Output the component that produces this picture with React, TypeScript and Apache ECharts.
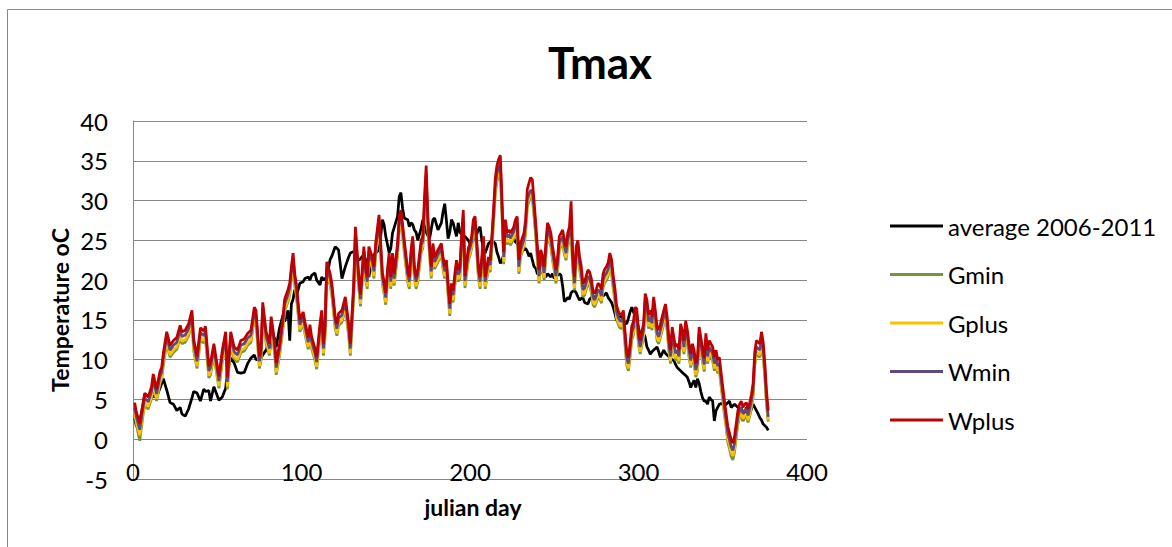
import React, { useEffect, useRef } from "react";
import * as echarts from "echarts";

const days = [
  1, 2, 4, 6, 7, 9, 11, 12, 14, 16, 17, 18, 20, 22, 24, 26, 28, 29, 31, 33, 35,
  36, 38, 40, 42, 43, 45, 46, 48, 51, 53, 55, 56, 58, 60, 62, 64, 66, 68, 70, 72, 73,
  75, 76, 77, 79, 80, 81, 82, 84, 85, 87, 89, 90, 92, 93, 94, 95, 96, 97, 99, 101, 102, 104, 105, 106, 108, 109, 111, 112,
  113, 114, 115, 117, 118, 120, 121, 122, 124, 126, 128, 129, 131, 132, 134, 135, 137, 138, 139, 140, 142, 143, 144, 146, 147, 148, 149, 150,
  151, 152, 153, 154, 155, 157, 158, 159, 160, 161, 163, 164, 165, 166, 167, 168, 169, 171, 172, 173, 174, 175, 176, 177, 178, 179, 181, 183, 184, 185, 186, 187, 188,
  189, 190, 191, 192, 193, 194, 195, 196, 197, 199, 200, 201, 202, 203, 204, 205, 206, 207, 208, 209, 210, 211, 212, 213, 214, 215, 216, 217, 218, 219, 220, 221, 222, 223, 224, 226,
  227, 228, 229, 230, 232, 233, 234, 235, 236, 237, 238, 239, 240, 241, 242, 243, 244, 245, 246, 247, 248, 249, 250, 251, 252, 253, 254, 255, 256, 257, 258, 259, 260, 261, 262, 263, 264,
  265, 266, 267, 268, 270, 271, 272, 273, 274, 275, 276, 277, 278, 279, 280, 281, 282, 283, 284, 285, 286, 287, 288, 289, 290, 291, 292, 293, 294, 295, 296, 297, 298, 299, 300, 301, 302,
  303, 304, 305, 306, 307, 308, 309, 310, 311, 312, 313, 315, 316, 317, 318, 319, 320, 321, 322, 323, 324, 325, 326, 327, 328, 329, 330, 331, 332, 333, 334, 335, 336, 337, 338, 339,
  340, 341, 342, 343, 344, 345, 346, 347, 348, 349, 350, 351, 352, 353, 354, 355, 356, 357, 358, 359, 360, 361, 362, 363, 364, 365, 366, 367, 368, 369, 370, 371, 372, 373, 374, 375, 376, 377,
];

const average = [
  2.6, 1.6, 2.2, 4.4, 5.6, 5.5, 5.2, 5.4, 5.3, 6.4, 7.0, 7.6, 6.2, 4.6, 4.4, 3.6, 4.0, 3.2, 2.9, 3.8, 5.2,
  6.0, 5.8, 4.8, 6.3, 6.0, 6.1, 4.8, 6.6, 4.9, 5.3, 6.4, 8.6, 10.2, 9.6, 8.4, 8.3, 8.4, 9.5, 10.2, 10.6, 10.0,
  10.0, 10.2, 10.6, 11.2, 11.8, 11.0, 12.4, 12.8, 11.6, 14.0, 15.6, 14.8, 16.2, 12.4, 17.0, 17.6, 18.8, 18.0, 19.6, 19.8, 20.2, 20.4, 20.0, 20.6, 20.9, 20.0, 19.4, 20.4,
  20.0, 20.2, 20.4, 22.6, 23.0, 24.2, 24.0, 23.8, 20.2, 21.7, 22.9, 23.4, 23.6, 23.4, 22.5, 22.7, 23.2, 22.6, 21.5, 20.4, 22.9, 23.2, 23.4, 23.8, 25.5, 27.6, 27.0, 25.5,
  24.5, 23.4, 24.0, 25.9, 26.6, 28.0, 30.5, 31.0, 29.0, 27.8, 27.6, 26.7, 27.2, 27.0, 26.3, 26.0, 25.0, 26.5, 27.6, 26.8, 26.0, 25.6, 25.2, 26.4, 27.6, 27.8, 26.3, 27.2, 28.6, 29.6, 27.5, 25.2, 26.0,
  27.6, 27.2, 26.3, 25.5, 27.2, 26.0, 25.8, 25.5, 25.5, 25.0, 24.6, 24.8, 25.0, 25.5, 25.8, 26.4, 26.7, 25.0, 23.8, 23.4, 24.0, 24.6, 24.8, 25.0, 24.8, 24.6, 23.5, 22.9, 22.1, 22.5, 23.2, 25.5, 25.6, 25.5, 25.4, 25.2,
  24.8, 24.6, 24.0, 23.8, 23.8, 24.0, 23.6, 23.0, 23.4, 22.5, 21.7, 21.5, 20.8, 20.6, 21.2, 21.0, 20.6, 20.4, 20.8, 20.6, 20.4, 20.8, 20.2, 20.8, 20.6, 20.8, 20.6, 19.2, 17.3, 17.5, 17.8, 17.6, 18.4, 18.6, 18.7, 18.4, 17.9,
  17.5, 17.7, 17.8, 17.2, 17.0, 17.6, 17.8, 17.6, 17.9, 18.0, 17.6, 17.8, 18.1, 18.0, 18.2, 18.4, 17.8, 17.5, 17.2, 16.6, 15.8, 14.9, 15.2, 15.4, 15.5, 14.9, 14.6, 14.5, 15.2, 16.0, 16.6, 16.0, 15.5, 15.0, 14.0, 13.2, 12.8,
  13.3, 12.8, 11.6, 11.2, 10.7, 11.0, 11.2, 11.4, 11.6, 11.0, 10.3, 11.2, 10.8, 10.6, 10.4, 10.2, 10.0, 9.9, 9.4, 9.0, 8.8, 8.6, 8.4, 8.2, 8.0, 7.8, 7.2, 6.5, 7.0, 7.4, 6.5, 7.6, 7.0, 6.0, 5.2, 4.8,
  4.8, 4.4, 5.3, 5.0, 4.8, 2.3, 3.6, 4.0, 4.4, 4.5, 4.4, 4.2, 4.4, 4.6, 4.8, 4.0, 4.2, 4.4, 4.2, 4.0, 3.8, 3.6, 2.3, 3.2, 4.0, 3.6, 3.2, 3.8, 4.4, 4.0, 3.6, 3.2, 2.7, 2.4, 1.9, 1.7, 1.5, 1.1,
];

const gmin = [
  3.1, 1.8, -0.2, 3.1, 4.3, 3.8, 5.1, 6.7, 4.8, 7.0, 7.5, 9.3, 12.0, 10.3, 10.9, 11.3, 12.8, 12.0, 12.2, 13.0, 14.7,
  11.1, 8.9, 12.5, 12.1, 12.7, 7.7, 8.1, 10.5, 6.4, 9.7, 12.0, 6.3, 12.0, 10.1, 9.7, 10.9, 11.1, 11.8, 12.2, 15.1, 14.7,
  8.9, 9.9, 15.7, 12.0, 11.3, 10.5, 13.9, 10.9, 8.1, 10.5, 13.9, 16.1, 17.3, 18.1, 20.2, 21.9, 19.3, 17.9, 13.5, 14.5, 13.3, 11.3, 12.9, 11.4, 9.9, 8.8, 13.1, 14.7,
  10.5, 13.0, 20.8, 19.3, 18.1, 13.9, 13.0, 14.3, 14.7, 16.4, 13.0, 10.5, 18.1, 25.2, 19.0, 16.7, 22.7, 20.2, 18.9, 22.7, 21.4, 20.2, 23.1, 26.7, 23.1, 19.5, 18.3, 16.9,
  19.8, 21.9, 18.9, 21.9, 19.3, 23.1, 26.5, 27.3, 25.5, 23.5, 19.8, 18.9, 22.3, 24.0, 20.2, 18.9, 19.8, 23.5, 24.0, 28.5, 32.3, 26.3, 23.1, 20.2, 23.1, 21.4, 22.3, 23.1, 21.4, 20.2, 21.0, 18.1, 15.5,
  18.1, 17.2, 19.3, 21.0, 19.8, 20.2, 24.0, 27.1, 19.0, 22.5, 23.1, 24.0, 26.1, 26.5, 23.5, 20.2, 18.9, 21.4, 24.0, 18.9, 20.2, 21.4, 21.0, 24.1, 27.2, 30.8, 32.4, 33.2, 33.6, 28.3, 22.0, 26.1, 24.5, 24.8, 24.4, 25.2,
  25.9, 26.3, 20.8, 22.9, 24.2, 25.9, 29.2, 29.9, 30.4, 30.2, 28.0, 25.5, 22.5, 19.6, 22.1, 21.3, 20.0, 22.9, 25.5, 25.0, 24.2, 22.5, 21.2, 19.6, 21.2, 23.8, 24.2, 24.6, 23.3, 22.5, 24.2, 25.0, 26.0, 21.3, 18.7, 22.5, 23.3,
  21.3, 20.1, 17.9, 18.1, 19.6, 19.3, 18.5, 16.9, 16.6, 17.2, 17.9, 17.7, 17.1, 19.1, 19.7, 20.0, 20.5, 21.7, 20.9, 18.9, 17.3, 15.1, 14.4, 14.0, 13.9, 14.5, 11.9, 9.3, 8.6, 10.3, 12.5, 13.1, 14.9, 14.7, 11.9, 10.7, 11.8,
  12.8, 16.6, 15.8, 13.9, 14.5, 13.7, 16.2, 14.5, 12.4, 12.0, 12.8, 14.5, 15.3, 13.7, 11.1, 9.5, 12.4, 11.1, 9.9, 10.3, 9.5, 12.8, 12.0, 10.7, 13.2, 12.0, 10.3, 9.0, 10.3, 9.5, 7.8, 8.6, 12.4, 11.1, 9.7, 8.5,
  11.6, 9.5, 10.7, 10.3, 9.9, 8.6, 9.5, 8.3, 8.6, 6.7, 4.9, 3.1, 1.5, -0.4, -1.2, -2.2, -2.6, -1.6, 0.2, 1.9, 2.7, 3.1, 2.3, 2.7, 2.9, 2.1, 2.9, 3.9, 5.3, 9.3, 10.7, 10.5, 10.3, 11.8, 10.5, 7.7, 4.2, 2.2,
];

const gplus = [
  3.4, 2.2, 0.5, 3.4, 4.6, 4.1, 5.4, 7.0, 5.1, 7.3, 7.8, 9.6, 12.3, 10.6, 11.2, 11.6, 13.1, 12.3, 12.5, 13.3, 15.0,
  11.4, 9.2, 12.8, 12.4, 13.0, 8.0, 8.4, 10.8, 6.7, 10.0, 12.3, 6.6, 12.3, 10.4, 10.0, 11.2, 11.4, 12.1, 12.5, 15.4, 15.0,
  9.2, 10.2, 16.0, 12.3, 11.6, 10.8, 14.2, 11.2, 8.4, 10.8, 14.2, 16.4, 17.6, 18.4, 20.5, 22.2, 19.6, 18.2, 13.8, 14.8, 13.6, 11.6, 13.2, 11.7, 10.2, 9.1, 13.4, 15.0,
  10.8, 13.3, 21.1, 19.6, 18.4, 14.2, 13.3, 14.6, 15.0, 16.7, 13.3, 10.8, 18.4, 25.5, 19.3, 17.0, 23.0, 20.5, 19.2, 23.0, 21.7, 20.5, 23.4, 27.0, 23.4, 19.8, 18.6, 17.2,
  20.1, 22.2, 19.2, 22.2, 19.6, 23.4, 26.8, 27.6, 25.8, 23.8, 20.1, 19.2, 22.6, 24.3, 20.5, 19.2, 20.1, 23.8, 24.3, 28.8, 32.6, 26.6, 23.4, 20.5, 23.4, 21.7, 22.6, 23.4, 21.7, 20.5, 21.3, 18.4, 15.8,
  18.4, 17.5, 19.6, 21.3, 20.1, 20.5, 24.3, 27.4, 19.3, 22.8, 23.4, 24.3, 26.4, 26.8, 23.8, 20.5, 19.2, 21.7, 24.3, 19.2, 20.5, 21.7, 21.3, 24.4, 27.6, 31.2, 32.8, 33.6, 34.0, 28.6, 22.3, 26.4, 24.8, 25.1, 24.7, 25.5,
  26.2, 26.6, 21.1, 23.2, 24.5, 26.2, 29.6, 30.3, 30.8, 30.6, 28.4, 25.8, 22.8, 19.9, 22.4, 21.6, 20.3, 23.2, 25.8, 25.3, 24.5, 22.8, 21.5, 19.9, 21.5, 24.1, 24.5, 24.9, 23.6, 22.8, 24.5, 25.3, 26.4, 21.6, 19.0, 22.8, 23.6,
  21.6, 20.4, 18.2, 18.4, 19.9, 19.6, 18.8, 17.2, 16.9, 17.5, 18.2, 18.0, 17.4, 19.4, 20.0, 20.3, 20.8, 22.0, 21.2, 19.2, 17.6, 15.4, 14.7, 14.3, 14.2, 14.8, 12.2, 9.6, 8.9, 10.6, 12.8, 13.4, 15.2, 15.0, 12.2, 11.0, 12.1,
  13.1, 16.9, 16.1, 14.2, 14.8, 14.0, 16.5, 14.8, 12.7, 12.3, 13.1, 14.8, 15.6, 14.0, 11.4, 9.8, 12.7, 11.4, 10.2, 10.6, 9.8, 13.1, 12.3, 11.0, 13.5, 12.3, 10.6, 9.3, 10.6, 9.8, 8.1, 8.9, 12.7, 11.4, 10.0, 8.8,
  11.9, 9.8, 11.0, 10.6, 10.2, 8.9, 9.8, 8.6, 8.9, 7.0, 5.2, 3.4, 1.8, 0.0, -0.8, -1.7, -2.1, -1.2, 0.5, 2.2, 3.0, 3.4, 2.6, 3.0, 3.2, 2.4, 3.2, 4.2, 5.6, 9.6, 11.0, 10.8, 10.6, 12.1, 10.8, 8.0, 4.4, 2.4,
];

const wmin = [
  4.0, 2.8, 1.2, 4.0, 5.2, 4.7, 6.0, 7.6, 5.7, 7.9, 8.4, 10.2, 12.9, 11.2, 11.8, 12.2, 13.7, 12.9, 13.1, 13.9, 15.6,
  12.0, 9.8, 13.4, 13.0, 13.6, 8.6, 9.0, 11.4, 7.3, 10.6, 12.9, 7.2, 12.9, 11.0, 10.6, 11.8, 12.0, 12.7, 13.1, 16.0, 15.6,
  9.8, 10.8, 16.6, 12.9, 12.2, 11.4, 14.8, 11.8, 9.0, 11.4, 14.8, 17.0, 18.2, 19.0, 21.1, 22.8, 20.2, 18.8, 14.4, 15.4, 14.2, 12.2, 13.8, 12.3, 10.8, 9.7, 14.0, 15.6,
  11.4, 13.9, 21.7, 20.2, 19.0, 14.8, 13.9, 15.2, 15.6, 17.3, 13.9, 11.4, 19.0, 26.1, 19.9, 17.6, 23.6, 21.1, 19.8, 23.6, 22.3, 21.1, 24.0, 27.6, 24.0, 20.4, 19.2, 17.8,
  20.7, 22.8, 19.8, 22.8, 20.2, 24.0, 27.4, 28.2, 26.4, 24.4, 20.7, 19.8, 23.2, 24.9, 21.1, 19.8, 20.7, 24.4, 24.9, 29.4, 33.2, 27.2, 24.0, 21.1, 24.0, 22.3, 23.2, 24.0, 22.3, 21.1, 21.9, 19.0, 16.4,
  19.0, 18.1, 20.2, 21.9, 20.7, 21.1, 24.9, 28.0, 19.9, 23.4, 24.0, 24.9, 27.0, 27.4, 24.4, 21.1, 19.8, 22.3, 24.9, 19.8, 21.1, 22.3, 21.9, 25.0, 28.2, 31.8, 33.4, 34.2, 34.6, 29.2, 22.9, 27.0, 25.4, 25.7, 25.3, 26.1,
  26.8, 27.2, 21.7, 23.8, 25.1, 26.8, 30.2, 30.8, 31.3, 31.2, 29.0, 26.4, 23.4, 20.5, 23.0, 22.2, 20.9, 23.8, 26.4, 25.9, 25.1, 23.4, 22.1, 20.5, 22.1, 24.7, 25.1, 25.5, 24.2, 23.4, 25.1, 25.9, 27.0, 22.2, 19.6, 23.4, 24.2,
  22.2, 21.0, 18.8, 19.0, 20.5, 20.2, 19.4, 17.8, 17.5, 18.1, 18.8, 18.6, 18.0, 20.0, 20.6, 20.9, 21.4, 22.6, 21.8, 19.8, 18.2, 16.0, 15.3, 14.9, 14.8, 15.4, 12.8, 10.2, 9.5, 11.2, 13.4, 14.0, 15.8, 15.6, 12.8, 11.6, 12.7,
  13.7, 17.5, 16.7, 14.8, 15.4, 14.6, 17.1, 15.4, 13.3, 12.9, 13.7, 15.4, 16.2, 14.6, 12.0, 10.4, 13.3, 12.0, 10.8, 11.2, 10.4, 13.7, 12.9, 11.6, 14.1, 12.9, 11.2, 9.9, 11.2, 10.4, 8.7, 9.5, 13.3, 12.0, 10.6, 9.4,
  12.5, 10.4, 11.6, 11.2, 10.8, 9.5, 10.4, 9.2, 9.5, 7.6, 5.8, 4.0, 2.4, 0.7, -0.1, -1.0, -1.4, -0.5, 1.1, 2.8, 3.6, 4.0, 3.2, 3.6, 3.8, 3.0, 3.8, 4.8, 6.2, 10.2, 11.6, 11.4, 11.2, 12.7, 11.4, 8.6, 5.0, 2.8,
];

const wplus = [
  4.6, 3.4, 2.0, 4.6, 5.8, 5.3, 6.6, 8.2, 6.3, 8.5, 9.0, 10.8, 13.5, 11.8, 12.4, 12.8, 14.3, 13.5, 13.7, 14.5, 16.2,
  12.6, 10.4, 14.0, 13.6, 14.2, 9.2, 9.6, 12.0, 7.9, 11.2, 13.5, 7.8, 13.5, 11.6, 11.2, 12.4, 12.6, 13.3, 13.7, 16.6, 16.2,
  10.4, 11.4, 17.2, 13.5, 12.8, 12.0, 15.4, 12.4, 9.6, 12.0, 15.4, 17.6, 18.8, 19.6, 21.7, 23.4, 20.8, 19.4, 15.0, 16.0, 14.8, 12.8, 14.4, 12.9, 11.4, 10.3, 14.6, 16.2,
  12.0, 14.5, 22.3, 20.8, 19.6, 15.4, 14.5, 15.8, 16.2, 17.9, 14.5, 12.0, 19.6, 26.7, 20.5, 18.2, 24.2, 21.7, 20.4, 24.2, 22.9, 21.7, 24.6, 28.2, 24.6, 21.0, 19.8, 18.4,
  21.3, 23.4, 20.4, 23.4, 20.8, 24.6, 28.0, 28.8, 27.0, 25.0, 21.3, 20.4, 23.8, 25.5, 21.7, 20.4, 21.3, 25.0, 25.5, 30.5, 34.4, 28.0, 24.6, 21.7, 24.6, 22.9, 23.8, 24.6, 22.9, 21.7, 22.5, 19.6, 17.0,
  19.6, 18.7, 20.8, 22.5, 21.3, 21.7, 25.5, 28.8, 20.5, 24.0, 24.6, 25.5, 27.6, 28.0, 25.0, 21.7, 20.4, 22.9, 25.5, 20.4, 21.7, 22.9, 22.5, 25.6, 29.0, 32.8, 34.4, 35.2, 35.7, 30.0, 23.5, 27.6, 26.0, 26.3, 25.9, 26.7,
  27.6, 28.0, 22.5, 24.6, 25.9, 27.6, 31.4, 32.2, 32.9, 32.6, 30.0, 27.2, 24.2, 21.3, 23.8, 23.0, 21.7, 24.6, 27.2, 26.7, 25.9, 24.2, 22.9, 21.3, 22.9, 25.5, 25.9, 26.3, 25.0, 24.2, 25.9, 26.7, 29.9, 23.0, 20.4, 24.2, 25.0,
  23.0, 21.8, 19.6, 19.8, 21.3, 21.0, 20.2, 18.6, 18.3, 18.9, 19.6, 19.4, 18.8, 20.8, 21.4, 21.7, 22.2, 23.4, 22.6, 20.6, 19.0, 16.8, 16.1, 15.7, 15.6, 16.2, 13.6, 11.0, 10.3, 12.0, 14.2, 14.8, 16.6, 16.4, 13.6, 12.4, 13.5,
  14.5, 18.3, 17.5, 15.6, 16.2, 15.4, 17.9, 16.2, 14.1, 13.7, 14.5, 16.2, 17.0, 15.4, 12.8, 11.2, 14.1, 12.8, 11.6, 12.0, 11.2, 14.5, 13.7, 12.4, 14.9, 13.7, 12.0, 10.7, 12.0, 11.2, 9.5, 10.3, 14.1, 12.8, 11.4, 10.2,
  13.3, 11.2, 12.4, 12.0, 11.6, 10.3, 11.2, 10.0, 10.3, 8.4, 6.6, 4.8, 3.2, 1.6, 0.8, -0.1, -0.5, 0.4, 2.0, 3.6, 4.4, 4.8, 4.0, 4.4, 4.6, 3.8, 4.6, 5.6, 7.0, 11.0, 12.4, 12.2, 12.0, 13.5, 12.2, 9.5, 6.0, 3.6,
];

const seriesNames = ["average 2006-2011", "Gmin", "Gplus", "Wmin", "Wplus"];
const seriesColors = ["#000000", "#77933C", "#FFC000", "#604A7B", "#C00000"];
const seriesValues = [average, gmin, gplus, wmin, wplus];

const titleText = "Tmax";
const xAxisTitle = "julian day";
const yAxisTitle = "Temperature oC";

const FONT = "Lato";

export default function App() {
  const ref = useRef<HTMLDivElement>(null);

  useEffect(() => {
    if (!ref.current) return;
    const chart = echarts.init(ref.current, null, { renderer: "svg" });
    const series = seriesNames.map((name, si) => ({
      type: "line",
      name,
      data: days.map((d, i) => [d, seriesValues[si][i]]),
      showSymbol: false,
      symbol: "none",
      color: seriesColors[si],
      lineStyle: { width: 2.75, color: seriesColors[si] },
      itemStyle: { color: seriesColors[si] },
      emphasis: { disabled: true },
      silent: true,
    }));

    chart.setOption({
      animation: false,
      backgroundColor: "#ffffff",
      textStyle: { fontFamily: FONT },
      graphic: [
        {
          type: "rect",
          shape: { x: 7.5, y: 9.5, width: 1200, height: 600 },
          style: { fill: "none", stroke: "#868686", lineWidth: 1 },
          silent: true,
        },
        {
          type: "text",
          x: 600,
          y: 62,
          style: {
            text: titleText,
            fontFamily: FONT,
            fontWeight: "bold",
            fontSize: 44,
            fill: "#000",
            align: "center",
            verticalAlign: "middle",
          },
        },
        {
          type: "text",
          x: 60,
          y: 310,
          rotation: Math.PI / 2,
          style: {
            text: yAxisTitle,
            fontFamily: FONT,
            fontWeight: "bold",
            fontSize: 23,
            fill: "#000",
            align: "center",
            verticalAlign: "middle",
          },
        },
        {
          type: "text",
          x: 473,
          y: 507,
          style: {
            text: xAxisTitle,
            fontFamily: FONT,
            fontWeight: "bold",
            fontSize: 23,
            fill: "#000",
            align: "center",
            verticalAlign: "middle",
          },
        },
      ],
      grid: { left: 133, top: 121, width: 674, height: 358, containLabel: false },
      xAxis: {
        type: "value",
        min: 0,
        max: 400,
        interval: 100,
        axisLine: { show: false, onZero: false },
        axisTick: { show: false },
        splitLine: { show: false },
        axisLabel: { margin: -20, fontSize: 24, color: "#000", fontFamily: FONT },
      },
      yAxis: {
        type: "value",
        min: -5,
        max: 40,
        interval: 5,
        axisLine: { show: true, onZero: false, lineStyle: { color: "#868686", width: 1 } },
        axisTick: { show: false },
        splitLine: { show: true, lineStyle: { color: "#868686", width: 1 } },
        axisLabel: { margin: 25, fontSize: 24, color: "#000", fontFamily: FONT },
      },
      legend: {
        orient: "vertical",
        left: 890,
        top: 214,
        padding: 0,
        itemWidth: 53,
        itemHeight: 3,
        itemGap: 24.5,
        icon: "rect",
        selectedMode: false,
        textStyle: { fontSize: 24, lineHeight: 24, color: "#000", fontFamily: FONT },
        data: seriesNames,
      },
      series,
    });

    return () => chart.dispose();
  }, []);

  return (
    <div
      ref={ref}
      style={{ position: "absolute", left: 0, top: 0, width: 1172, height: 547 }}
    />
  );
}
